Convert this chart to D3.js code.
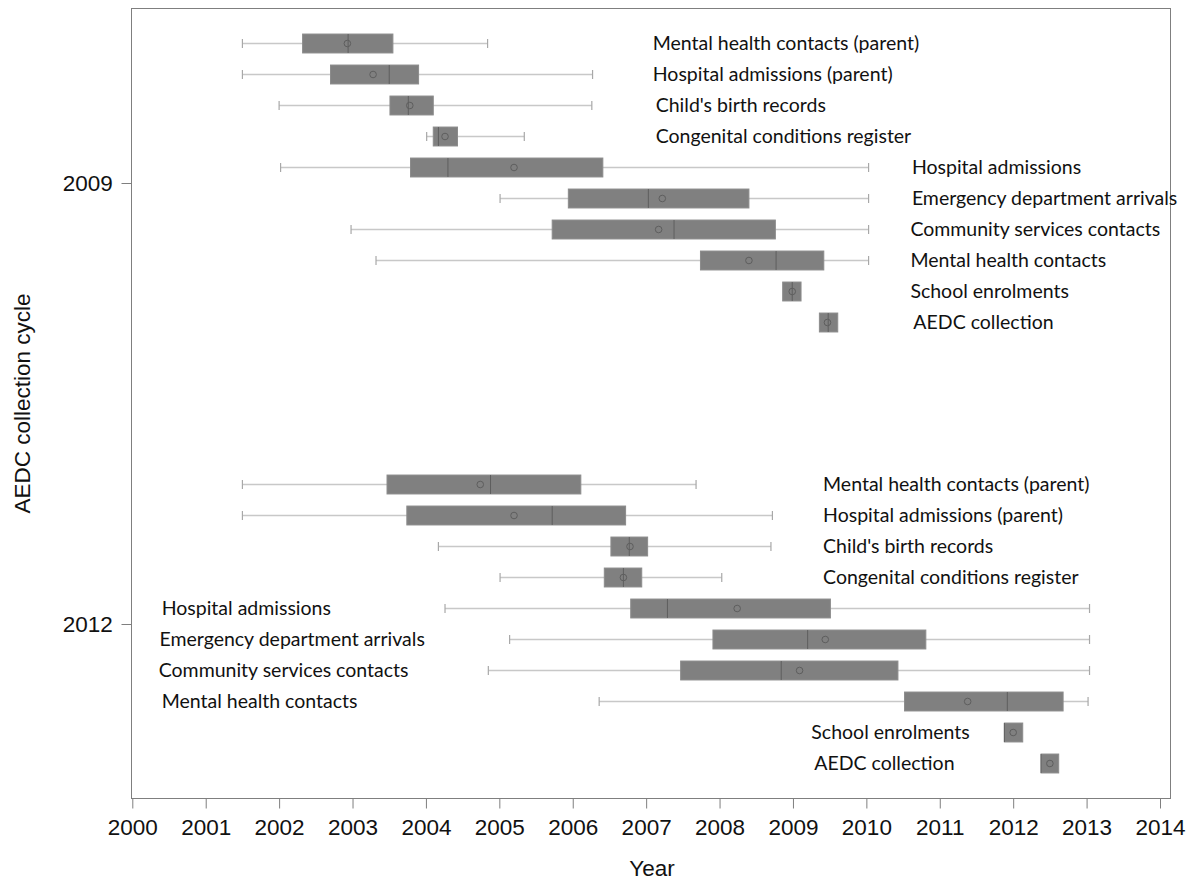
<!DOCTYPE html>
<html><head><meta charset="utf-8">
<script src="https://cdn.jsdelivr.net/npm/d3@7"></script>
<style>
html,body{margin:0;padding:0;background:#fff;}
svg{display:block;}
</style></head>
<body>
<svg id="chart" width="1199" height="882"></svg>
<script>
// ---------- DATA ----------
const sources = ["Mental health contacts (parent)", "Hospital admissions (parent)", "Child's birth records",
  "Congenital conditions register", "Hospital admissions", "Emergency department arrivals",
  "Community services contacts", "Mental health contacts", "School enrolments", "AEDC collection"];
const cycles = [2009, 2012];
const xTicks = [2000,2001,2002,2003,2004,2005,2006,2007,2008,2009,2010,2011,2012,2013,2014];
const yTicks = [2009, 2012];

const low2009  = [2001.50, 2001.50, 2002.00, 2004.01, 2002.02, 2005.01, 2002.98, 2003.32, null, null];
const q1_2009  = [2002.32, 2002.70, 2003.51, 2004.10, 2003.79, 2005.94, 2005.72, 2007.74, 2008.86, 2009.36];
const med2009  = [2002.94, 2003.50, 2003.76, 2004.17, 2004.30, 2007.03, 2007.38, 2008.77, 2008.99, 2009.48];
const mean2009 = [2002.93, 2003.28, 2003.78, 2004.26, 2005.20, 2007.22, 2007.17, 2008.40, 2008.99, 2009.47];
const q3_2009  = [2003.55, 2003.90, 2004.10, 2004.43, 2006.41, 2008.40, 2008.76, 2009.42, 2009.11, 2009.61];
const high2009 = [2004.84, 2006.27, 2006.26, 2005.34, 2010.03, 2010.03, 2010.03, 2010.03, null, null];
const label2009 = [2007.09, 2007.09, 2007.13, 2007.13, 2010.62, 2010.62, 2010.60, 2010.60, 2010.60, 2010.64];

const low2012  = [2001.50, 2001.50, 2004.17, 2005.01, 2004.26, 2005.14, 2004.85, 2006.36, null, null];
const q1_2012  = [2003.47, 2003.74, 2006.52, 2006.43, 2006.79, 2007.91, 2007.47, 2010.52, 2011.88, 2012.38];
const med2012  = [2004.88, 2005.72, 2006.77, 2006.69, 2007.29, 2009.20, 2008.84, 2011.92, 2011.88, 2012.38];
const mean2012 = [2004.74, 2005.20, 2006.78, 2006.69, 2008.24, 2009.44, 2009.09, 2011.38, 2012.00, 2012.50];
const q3_2012  = [2006.11, 2006.72, 2007.02, 2006.94, 2009.51, 2010.81, 2010.43, 2012.68, 2012.13, 2012.62];
const high2012 = [2007.68, 2008.72, 2008.70, 2008.03, 2013.04, 2013.04, 2013.04, 2013.02, null, null];
const label2012 = [2009.41, 2009.41, 2009.41, 2009.41, 2000.40, 2000.37, 2000.36, 2000.40, 2009.25, 2009.29];

// ---------- BUILD ----------
const groups = [
  {cycle: 2009, low: low2009, q1: q1_2009, med: med2009, mean: mean2009, q3: q3_2009, high: high2009, lab: label2009},
  {cycle: 2012, low: low2012, q1: q1_2012, med: med2012, mean: mean2012, q3: q3_2012, high: high2012, lab: label2012}
];
const rows = [];
groups.forEach(g => sources.forEach((s, i) => rows.push({
  cycle: g.cycle, i, name: s, low: g.low[i], q1: g.q1[i], med: g.med[i], mean: g.mean[i],
  q3: g.q3[i], high: g.high[i], lab: g.lab[i]
})));

const svg = d3.select("#chart");
const frame = {left: 131.5, right: 1170.5, top: 8.5, bottom: 798.5};

const x = d3.scaleLinear().domain([2000, 2014]).range([132.3, 1160]);
const y = d3.scaleLinear().domain([2009, 2012]).range([183, 624]);
const sub = d3.scaleBand().domain(d3.range(sources.length)).range([-155, 155])
  .paddingInner(0.39).paddingOuter(0.195);
const cy = d => y(d.cycle) + sub(d.i) + sub.bandwidth() / 2;
const bh = sub.bandwidth();

// frame
svg.append("rect").attr("x", frame.left).attr("y", frame.top)
  .attr("width", frame.right - frame.left).attr("height", frame.bottom - frame.top)
  .attr("fill", "none").attr("stroke", "#7f7f7f").attr("stroke-width", 1);

// x axis
const xAxis = d3.axisBottom(x).tickValues(xTicks).tickFormat(d3.format("d")).tickSize(10).tickSizeOuter(0);
const gx = svg.append("g").attr("transform", `translate(0,${frame.bottom})`).call(xAxis);
gx.select(".domain").remove();
gx.selectAll(".tick line").attr("stroke", "#7f7f7f");
gx.selectAll(".tick text").attr("font-family", "Liberation Sans, Arial, sans-serif")
  .attr("font-size", 22.5).attr("fill", "#111").attr("dy", "1.05em");

// y axis
const yAxis = d3.axisLeft(y).tickValues(yTicks).tickFormat(d3.format("d")).tickSize(10).tickSizeOuter(0);
const gy = svg.append("g").attr("transform", `translate(${frame.left},0)`).call(yAxis);
gy.select(".domain").remove();
gy.selectAll(".tick line").attr("stroke", "#7f7f7f");
gy.selectAll(".tick text").attr("font-family", "Liberation Sans, Arial, sans-serif")
  .attr("font-size", 22.5).attr("fill", "#111").attr("dx", "-0.25em");

// axis titles
svg.append("text").attr("x", 652).attr("y", 876).attr("text-anchor", "middle")
  .attr("font-family", "Liberation Sans, Arial, sans-serif").attr("font-size", 22.5).attr("fill", "#111")
  .text("Year");
svg.append("text").attr("transform", `translate(30,${(frame.top + frame.bottom) / 2}) rotate(-90)`)
  .attr("text-anchor", "middle")
  .attr("font-family", "Liberation Sans, Arial, sans-serif").attr("font-size", 22.5).attr("fill", "#111")
  .text("AEDC collection cycle");

// boxplots
const g = svg.append("g");
const wh = rows.filter(d => d.low != null);
// whisker lines
g.selectAll(".whisk").data(wh).join("line")
  .attr("x1", d => x(d.low)).attr("x2", d => x(d.high))
  .attr("y1", cy).attr("y2", cy)
  .attr("stroke", "#c8c8c8").attr("stroke-width", 1.5);
// caps
["low", "high"].forEach(k => {
  g.selectAll(".cap-" + k).data(wh).join("line")
    .attr("x1", d => x(d[k])).attr("x2", d => x(d[k]))
    .attr("y1", d => cy(d) - 4.5).attr("y2", d => cy(d) + 4.5)
    .attr("stroke", "#a8a8a8").attr("stroke-width", 1.2);
});
// boxes
g.selectAll(".box").data(rows).join("rect")
  .attr("x", d => x(d.q1)).attr("width", d => x(d.q3) - x(d.q1))
  .attr("y", d => cy(d) - bh / 2).attr("height", bh)
  .attr("fill", "#808080").attr("stroke", "#8c8c8c").attr("stroke-width", 1);
// medians
g.selectAll(".med").data(rows).join("line")
  .attr("x1", d => x(d.med)).attr("x2", d => x(d.med))
  .attr("y1", d => cy(d) - bh / 2).attr("y2", d => cy(d) + bh / 2)
  .attr("stroke", "#5e5e5e").attr("stroke-width", 1);
// means
g.selectAll(".mean").data(rows).join("circle")
  .attr("cx", d => x(d.mean)).attr("cy", cy).attr("r", 3.3)
  .attr("fill", "none").attr("stroke", "#5e5e5e").attr("stroke-width", 1);

// labels
g.selectAll(".lab").data(rows).join("text")
  .attr("x", d => x(d.lab)).attr("y", cy).attr("dy", "0.35em")
  .attr("font-family", "Lato, 'Open Sans', sans-serif").attr("font-size", 19.5).attr("fill", "#111")
  .text(d => d.name);
</script>
</body></html>
